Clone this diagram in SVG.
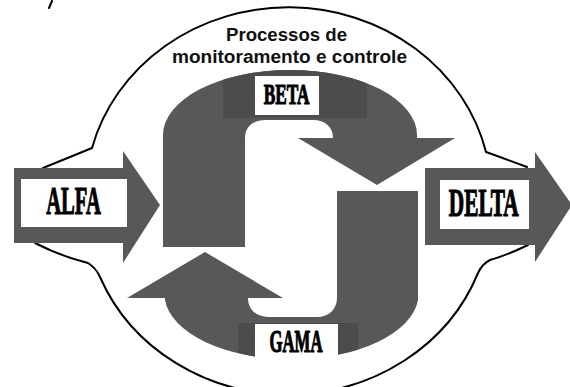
<svg xmlns="http://www.w3.org/2000/svg" width="570" height="387" viewBox="0 0 570 387">
<style>
.line{fill:none;stroke:#000;stroke-width:2;stroke-linejoin:round;stroke-linecap:round}
.shape{fill:#585858}
.dark{fill:#4c4c4c}
.box{fill:#fff}
.lbl{font-family:"Liberation Serif","Times New Roman",serif;font-weight:bold;fill:#000;stroke:#000;stroke-width:1.2;text-anchor:middle}
.title{font-family:"Liberation Sans",Arial,sans-serif;font-weight:bold;font-size:18px;fill:#111;text-anchor:start}
</style>
<defs>
<clipPath id="clipBeta"><path d="M163 247 L163 135 A127 65 0 0 1 417 135 L417 138 L455 138 L377 185 L298 138 L333 138 C333 127 325 120 313 120 L265 120 C253 120 245 127 245 138 L245 247 Z"/></clipPath>
<clipPath id="clipGama"><path d="M337 191 L418 191 L418 300 A127 65 0 0 1 165 300 L165 298 L127 298 L205 252 L283 298 L248 298 C248 309 256 317 268 317 L317 317 C329 317 337 309 337 298 Z"/></clipPath>
</defs>
<rect width="570" height="387" fill="#fff"/>
<g id="connectors">
<path class="line" d="M43 168 L92 148 A203 188 0 0 1 486 152 Q500 157 527 167"/>
<path class="line" d="M528 245 Q505 256 490 260 Q482 264 478 273 A203 188 0 0 1 100 277 Q96 268 88 263 Q60 256 35 243"/>
<path class="line" d="M52 1 L49 8" stroke-width="1.5"/>
</g>
<g id="title">
<text class="title" x="226" y="40.5" textLength="121" lengthAdjust="spacingAndGlyphs">Processos de</text>
<text class="title" x="172" y="63" textLength="235" lengthAdjust="spacingAndGlyphs">monitoramento e controle</text>
</g>
<g id="beta">
<path class="shape" d="M163 247 L163 135 A127 65 0 0 1 417 135 L417 138 L455 138 L377 185 L298 138 L333 138 C333 127 325 120 313 120 L265 120 C253 120 245 127 245 138 L245 247 Z"/>
<rect class="dark" x="223" y="60" width="144" height="58" clip-path="url(#clipBeta)"/>
<rect class="box" x="255" y="76" width="64" height="39"/>
<text class="lbl" transform="translate(286.7 104) scale(0.575 1)" font-size="30">BETA</text>
</g>
<g id="gama">
<path class="shape" d="M337 191 L418 191 L418 300 A127 65 0 0 1 165 300 L165 298 L127 298 L205 252 L283 298 L248 298 C248 309 256 317 268 317 L317 317 C329 317 337 309 337 298 Z"/>
<rect class="dark" x="238" y="323" width="120" height="50" clip-path="url(#clipGama)"/>
<rect class="box" x="255" y="324" width="83" height="39"/>
<text class="lbl" transform="translate(296 352.3) scale(0.54 1)" font-size="31">GAMA</text>
</g>
<g id="alfa">
<path class="shape" d="M14 168 L123 168 L123 151 L160 205 L123 263 L123 243 L14 243 Z"/>
<rect class="box" x="21" y="179" width="106" height="48"/>
<text class="lbl" transform="translate(73.5 214) scale(0.528 1)" font-size="39">ALFA</text>
</g>
<g id="delta">
<path class="shape" d="M425 168 L535 168 L535 152 L572 205 L535 262 L535 245 L425 245 Z"/>
<rect class="box" x="440" y="180" width="89" height="49"/>
<text class="lbl" transform="translate(483.8 215.5) scale(0.547 1)" font-size="39">DELTA</text>
</g>
</svg>
